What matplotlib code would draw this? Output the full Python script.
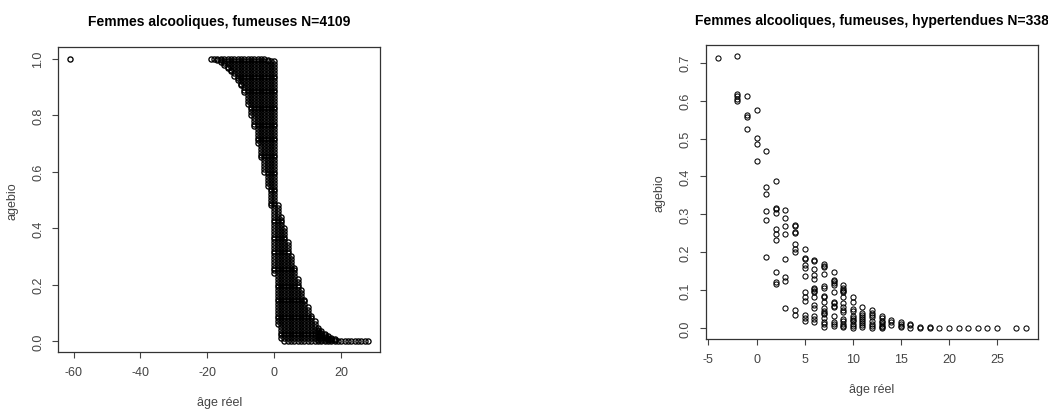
import matplotlib
matplotlib.use('Agg')
import matplotlib.pyplot as plt

plt.rcParams['font.family'] = ['Liberation Sans', 'DejaVu Sans']

# Women who drink and smoke: agebio values for each integer value of real age
left_cols = [-61, -19, -18, -17, -16, -15, -14, -13, -12, -11, -10, -9, -8, -7, -6, -5, -4, -3, -2, -1,
             0, 1, 2, 3, 4, 5, 6, 7, 8, 9, 10, 11, 12, 13, 14, 15, 16, 17, 18,
             19, 20, 21, 22, 23, 24, 25, 26, 27, 28]
left_vals = [
    [1.0],
    [1.0],
    [1.0],
    [1.0, 0.996],
    [1.0, 0.994, 0.987],
    [1.0, 0.993, 0.985, 0.977],
    [1.0, 0.99, 0.98, 0.97, 0.965],
    [1.0, 0.99, 0.98, 0.97, 0.96, 0.955],
    [1.0, 0.99, 0.98, 0.97, 0.96, 0.95, 0.94],
    [1.0, 0.99, 0.98, 0.97, 0.96, 0.95, 0.94, 0.93, 0.925],
    [1.0, 0.99, 0.98, 0.97, 0.96, 0.95, 0.94, 0.93, 0.92, 0.91, 0.905],
    [1.0, 0.99, 0.98, 0.97, 0.96, 0.95, 0.94, 0.93, 0.92, 0.91, 0.90, 0.89, 0.88],
    [1.0, 0.99, 0.98, 0.97, 0.96, 0.95, 0.94, 0.93, 0.92, 0.91, 0.90, 0.89, 0.88, 0.87, 0.86, 0.85, 0.84],
    [1.0, 0.99, 0.98, 0.97, 0.96, 0.95, 0.94, 0.93, 0.92, 0.91, 0.90, 0.89, 0.88, 0.87, 0.86, 0.85, 0.84,
     0.83, 0.82, 0.81, 0.80],
    [1.0, 0.99, 0.98, 0.97, 0.96, 0.95, 0.94, 0.93, 0.92, 0.91, 0.90, 0.89, 0.88, 0.87, 0.86, 0.85, 0.84,
     0.83, 0.82, 0.81, 0.80, 0.79, 0.78, 0.77, 0.76],
    [1.0, 0.99, 0.98, 0.97, 0.96, 0.95, 0.94, 0.93, 0.92, 0.91, 0.90, 0.89, 0.88, 0.87, 0.86, 0.85, 0.84,
     0.83, 0.82, 0.81, 0.80, 0.79, 0.78, 0.77, 0.76, 0.75, 0.74, 0.73, 0.72, 0.71, 0.70],
    [1.0, 0.99, 0.98, 0.97, 0.96, 0.95, 0.94, 0.93, 0.92, 0.91, 0.90, 0.89, 0.88, 0.87, 0.86, 0.85, 0.84,
     0.83, 0.82, 0.81, 0.80, 0.79, 0.78, 0.77, 0.76, 0.75, 0.74, 0.73, 0.72, 0.71, 0.70, 0.69, 0.68,
     0.67, 0.66, 0.65],
    [1.0, 0.99, 0.98, 0.97, 0.96, 0.95, 0.94, 0.93, 0.92, 0.91, 0.90, 0.89, 0.88, 0.87, 0.86, 0.85, 0.84,
     0.83, 0.82, 0.81, 0.80, 0.79, 0.78, 0.77, 0.76, 0.75, 0.74, 0.73, 0.72, 0.71, 0.70, 0.69, 0.68,
     0.67, 0.66, 0.65, 0.64, 0.63, 0.62, 0.61, 0.60],
    [0.995, 0.99, 0.98, 0.97, 0.96, 0.95, 0.94, 0.93, 0.92, 0.91, 0.90, 0.89, 0.88, 0.87, 0.86, 0.85, 0.84,
     0.83, 0.82, 0.81, 0.80, 0.79, 0.78, 0.77, 0.76, 0.75, 0.74, 0.73, 0.72, 0.71, 0.70, 0.69, 0.68,
     0.67, 0.66, 0.65, 0.64, 0.63, 0.62, 0.61, 0.60, 0.59, 0.58, 0.57, 0.56, 0.55],
    [0.99, 0.98, 0.97, 0.96, 0.95, 0.94, 0.93, 0.92, 0.91, 0.90, 0.89, 0.88, 0.87, 0.86, 0.85, 0.84,
     0.83, 0.82, 0.81, 0.80, 0.79, 0.78, 0.77, 0.76, 0.75, 0.74, 0.73, 0.72, 0.71, 0.70, 0.69, 0.68,
     0.67, 0.66, 0.65, 0.64, 0.63, 0.62, 0.61, 0.60, 0.59, 0.58, 0.57, 0.56, 0.55, 0.54, 0.53, 0.52,
     0.51, 0.50, 0.49, 0.48],
    [0.99, 0.98, 0.97, 0.96, 0.95, 0.94, 0.93, 0.92, 0.91, 0.90, 0.89, 0.88, 0.87, 0.86, 0.85, 0.84,
     0.83, 0.82, 0.81, 0.80, 0.79, 0.78, 0.77, 0.76, 0.75, 0.74, 0.73, 0.72, 0.71, 0.70, 0.69, 0.68,
     0.67, 0.66, 0.65, 0.64, 0.63, 0.62, 0.61, 0.60, 0.59, 0.58, 0.57, 0.56, 0.55, 0.54, 0.53, 0.52,
     0.51, 0.50, 0.49, 0.48, 0.47, 0.46, 0.45, 0.44, 0.43, 0.42, 0.41, 0.40, 0.39, 0.38, 0.37, 0.36,
     0.35, 0.34, 0.33, 0.32, 0.31, 0.30, 0.29, 0.28, 0.27, 0.26, 0.25, 0.24],
    [0.48, 0.47, 0.46, 0.45, 0.44, 0.43, 0.42, 0.41, 0.40, 0.39, 0.38, 0.37, 0.36, 0.35, 0.34, 0.33,
     0.32, 0.31, 0.30, 0.29, 0.28, 0.27, 0.26, 0.25, 0.24, 0.23, 0.22, 0.21, 0.20, 0.19, 0.18, 0.17,
     0.16, 0.15, 0.14, 0.13, 0.12, 0.11, 0.10, 0.09, 0.08, 0.07, 0.06],
    [0.44, 0.43, 0.42, 0.41, 0.40, 0.39, 0.38, 0.37, 0.36, 0.35, 0.34, 0.33, 0.32, 0.31, 0.30, 0.29,
     0.28, 0.27, 0.26, 0.25, 0.24, 0.23, 0.22, 0.21, 0.20, 0.19, 0.18, 0.17, 0.16, 0.15, 0.14, 0.13,
     0.12, 0.11, 0.10, 0.09, 0.08, 0.07, 0.06, 0.05, 0.04, 0.03, 0.02, 0.01],
    [0.40, 0.39, 0.38, 0.37, 0.36, 0.35, 0.34, 0.33, 0.32, 0.31, 0.30, 0.29, 0.28, 0.27, 0.26, 0.25,
     0.24, 0.23, 0.22, 0.21, 0.20, 0.19, 0.18, 0.17, 0.16, 0.15, 0.14, 0.13, 0.12, 0.11, 0.10, 0.09,
     0.08, 0.07, 0.06, 0.05, 0.04, 0.03, 0.02, 0.01, 0.0],
    [0.35, 0.34, 0.33, 0.32, 0.31, 0.30, 0.29, 0.28, 0.27, 0.26, 0.25, 0.24, 0.23, 0.22, 0.21, 0.20,
     0.19, 0.18, 0.17, 0.16, 0.15, 0.14, 0.13, 0.12, 0.11, 0.10, 0.09, 0.08, 0.07, 0.06, 0.05, 0.04,
     0.03, 0.02, 0.01, 0.0],
    [0.30, 0.29, 0.28, 0.27, 0.26, 0.25, 0.24, 0.23, 0.22, 0.21, 0.20, 0.19, 0.18, 0.17, 0.16, 0.15,
     0.14, 0.13, 0.12, 0.11, 0.10, 0.09, 0.08, 0.07, 0.06, 0.05, 0.04, 0.03, 0.02, 0.01, 0.0],
    [0.26, 0.25, 0.24, 0.23, 0.22, 0.21, 0.20, 0.19, 0.18, 0.17, 0.16, 0.15, 0.14, 0.13, 0.12, 0.11,
     0.10, 0.09, 0.08, 0.07, 0.06, 0.05, 0.04, 0.03, 0.02, 0.01, 0.0],
    [0.22, 0.21, 0.20, 0.19, 0.18, 0.17, 0.16, 0.15, 0.14, 0.13, 0.12, 0.11, 0.10, 0.09, 0.08, 0.07,
     0.06, 0.05, 0.04, 0.03, 0.02, 0.01, 0.0],
    [0.18, 0.17, 0.16, 0.15, 0.14, 0.13, 0.12, 0.11, 0.10, 0.09, 0.08, 0.07, 0.06, 0.05, 0.04, 0.03,
     0.02, 0.01, 0.0],
    [0.145, 0.14, 0.13, 0.12, 0.11, 0.10, 0.09, 0.08, 0.07, 0.06, 0.05, 0.04, 0.03, 0.02, 0.01, 0.0],
    [0.12, 0.11, 0.10, 0.09, 0.08, 0.07, 0.06, 0.05, 0.04, 0.03, 0.02, 0.01, 0.0],
    [0.09, 0.08, 0.07, 0.06, 0.05, 0.04, 0.03, 0.02, 0.01, 0.0],
    [0.07, 0.06, 0.05, 0.04, 0.03, 0.02, 0.01, 0.0],
    [0.045, 0.04, 0.035, 0.03, 0.025, 0.02, 0.015, 0.01, 0.005, 0.0],
    [0.035, 0.03, 0.025, 0.02, 0.015, 0.01, 0.005, 0.0],
    [0.025, 0.02, 0.015, 0.01, 0.005, 0.0],
    [0.017, 0.012, 0.008, 0.004, 0.0],
    [0.01, 0.006, 0.003, 0.0],
    [0.006, 0.003, 0.0],
    [0.0], [0.0], [0.0], [0.0], [0.0], [0.0], [0.0], [0.0], [0.0], [0.0],
]

# Women who drink, smoke and have high blood pressure
right_cols = [-4, -2, -1, 0, 1, 2, 3, 4, 5, 6, 7, 8, 9, 10, 11, 12, 13, 14, 15, 16, 17, 18,
              19, 20, 21, 22, 23, 24, 25, 27, 28]
right_vals = [
    [0.712],
    [0.718, 0.618, 0.612, 0.605, 0.598],
    [0.611, 0.563, 0.556, 0.524],
    [0.576, 0.501, 0.486, 0.441],
    [0.466, 0.371, 0.354, 0.310, 0.285, 0.187],
    [0.387, 0.317, 0.313, 0.304, 0.261, 0.247, 0.233, 0.148, 0.122, 0.116],
    [0.312, 0.291, 0.269, 0.247, 0.181, 0.135, 0.123, 0.053],
    [0.273, 0.270, 0.253, 0.250, 0.222, 0.210, 0.202, 0.048, 0.034],
    [0.208, 0.186, 0.182, 0.167, 0.158, 0.137, 0.094, 0.083, 0.071, 0.034, 0.028, 0.018],
    [0.180, 0.176, 0.157, 0.140, 0.129, 0.107, 0.103, 0.099, 0.094, 0.081, 0.062, 0.052, 0.031,
     0.024, 0.015],
    [0.168, 0.165, 0.160, 0.143, 0.112, 0.107, 0.085, 0.081, 0.070, 0.052, 0.046, 0.041, 0.037,
     0.026, 0.015, 0.011, 0.004],
    [0.148, 0.128, 0.123, 0.119, 0.114, 0.094, 0.070, 0.065, 0.059, 0.055, 0.032, 0.015, 0.011, 0.006],
    [0.114, 0.106, 0.101, 0.098, 0.094, 0.081, 0.066, 0.055, 0.049, 0.043, 0.024, 0.018, 0.012,
     0.006, 0.002],
    [0.083, 0.068, 0.050, 0.045, 0.033, 0.027, 0.022, 0.018, 0.011, 0.005, 0.001],
    [0.055, 0.040, 0.034, 0.029, 0.024, 0.018, 0.013, 0.008, 0.002],
    [0.048, 0.040, 0.034, 0.030, 0.019, 0.011, 0.006, 0.001],
    [0.031, 0.026, 0.018, 0.015, 0.011, 0.006, 0.003, 0.0],
    [0.021, 0.015, 0.007],
    [0.015, 0.011, 0.006, 0.002],
    [0.011, 0.007, 0.001],
    [0.004, 0.0],
    [0.004, 0.001],
    [0.0], [0.0], [0.0], [0.0], [0.0], [0.0], [0.0], [0.0], [0.0],
]


def r_limits(values):
    # 4% padding on each side, like R's default axis range
    lo, hi = min(values), max(values)
    pad = 0.04 * (hi - lo)
    return lo - pad, hi + pad


def scatter_panel(ax, cols, vals, title, xticks, yticks, title_pad, edge_width):
    xs = [c for c, v in zip(cols, vals) for _ in v]
    ys = [y for v in vals for y in v]
    ax.plot(xs, ys, 'o', mfc='none', mec='black', ms=3.7, mew=edge_width, ls='none')
    ax.set_xlim(r_limits(xs))
    ax.set_ylim(r_limits(ys))

    ax.set_xticks(xticks)
    ax.set_yticks(yticks)
    ax.set_xticklabels([str(t) for t in xticks])
    ax.set_yticklabels([f'{t:.1f}' for t in yticks], rotation=90, va='center')
    ax.tick_params(direction='out', length=4, width=0.8, colors='#444444',
                   labelsize=9, labelcolor='#444444')
    ax.tick_params(axis='x', pad=6)
    ax.tick_params(axis='y', pad=6)
    for s in ax.spines.values():
        s.set_color('#333333')
        s.set_linewidth(0.9)

    ax.set_title(title, fontsize=10, fontweight='bold', pad=title_pad)
    ax.set_xlabel('âge réel', fontsize=9, color='#444444', labelpad=13)
    ax.set_ylabel('agebio', fontsize=9, color='#444444', labelpad=10)


fig = plt.figure(figsize=(10.48, 4.10), dpi=100)
ax1 = fig.add_axes([0.0556, 0.1383, 0.307, 0.7439])
ax2 = fig.add_axes([0.6734, 0.1707, 0.3173, 0.7171])

scatter_panel(ax1, left_cols, left_vals, 'Femmes alcooliques, fumeuses N=4109',
              [-60, -40, -20, 0, 20], [0.0, 0.2, 0.4, 0.6, 0.8, 1.0], 16, 0.95)
scatter_panel(ax2, right_cols, right_vals, 'Femmes alcooliques, fumeuses, hypertendues N=338',
              [-5, 0, 5, 10, 15, 20, 25], [0.0, 0.1, 0.2, 0.3, 0.4, 0.5, 0.6, 0.7], 15, 0.75)

fig.savefig('out.png', dpi=100)
